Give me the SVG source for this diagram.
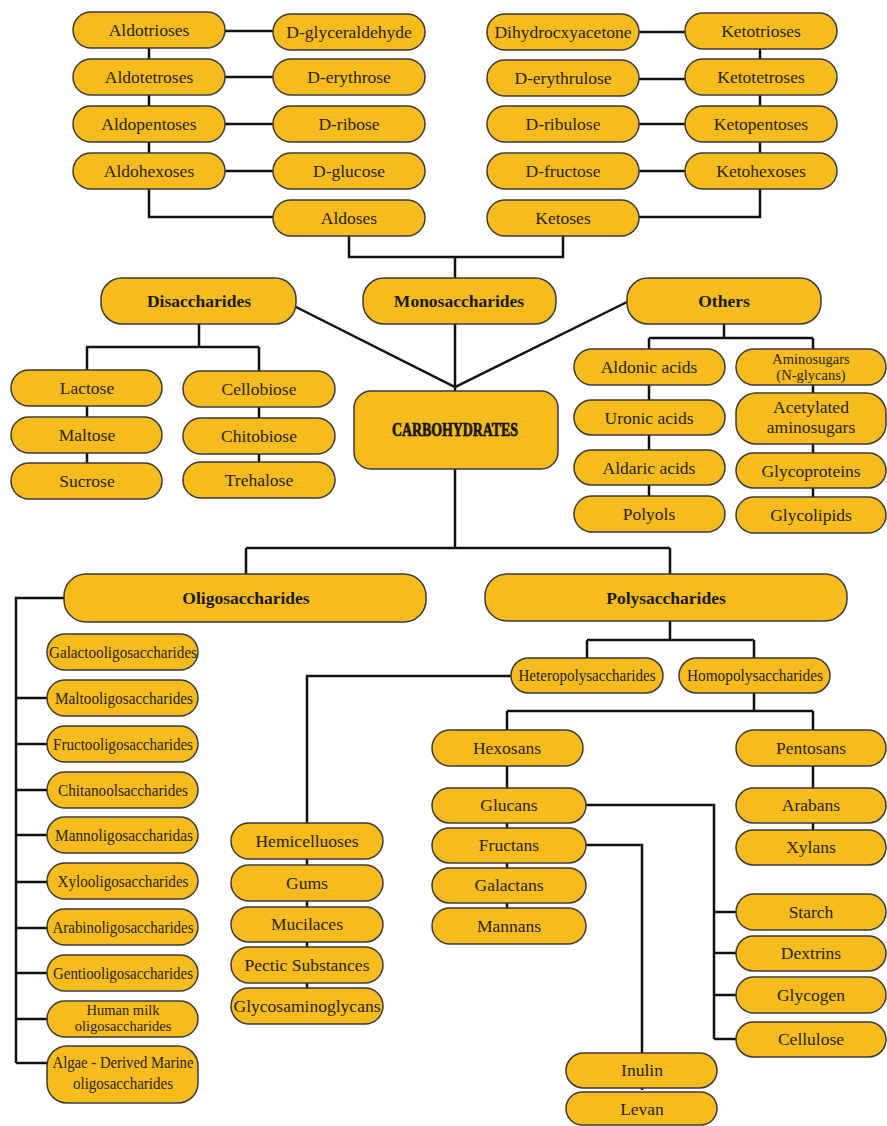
<svg xmlns="http://www.w3.org/2000/svg" width="887" height="1126" viewBox="0 0 887 1126">
<style>
rect{fill:#F6BC1D;stroke:#3a3a3a;stroke-width:1.5}
text{font-family:"Liberation Serif","Times New Roman",serif;font-size:17.5px;fill:#2a2418;text-anchor:middle}
.b{font-weight:bold;fill:#1a1a1a}
.s{font-size:14.5px}
#connectors path{fill:none;stroke:#111;stroke-width:2.5}
</style>
<rect x="0" y="0" width="887" height="1126" style="fill:#fff;stroke:none"/>
<g id="connectors">
<path d="M149 30V217H273M225 31H273M225 77H273M225 124H273M225 171H273"/>
<path d="M760 31V217H639M639 32H685M639 79H685M639 124H685M639 171H685"/>
<path d="M349 236V257H563V236M455 257V278"/>
<path d="M455 324V391M296 307L455 387L627 302"/>
<path d="M199 324V347M86 347H259M87 347V481M259 347V480"/>
<path d="M724 324V338M649 338H813M649 338V514M813 338V515"/>
<path d="M455 469V548M246 548H670M246 548V574M670 548V574"/>
<path d="M64 598H16V1063M16 698H47M16 744H47M16 790H47M16 835H47M16 882H47M16 928H47M16 973H47M16 1019H47M16 1063H47"/>
<path d="M670 621V640M587 640H754M587 640V658M754 640V658"/>
<path d="M511 676H307V1006"/>
<path d="M754 693V711M507 711H813M507 711V926M813 711V848"/>
<path d="M586 805H714V1039M714 912H736M714 953H736M714 995H736M714 1039H736"/>
<path d="M586 845H642V1090"/>
</g>
<g id="n-aldotrioses"><rect x="73" y="12" width="152" height="36" rx="18"/><text x="149" y="36">Aldotrioses</text></g>
<g id="n-dglyceraldehyde"><rect x="273" y="14" width="152" height="36" rx="18"/><text x="349" y="38">D-glyceraldehyde</text></g>
<g id="n-aldotetroses"><rect x="73" y="59" width="152" height="36" rx="18"/><text x="149" y="83">Aldotetroses</text></g>
<g id="n-derythrose"><rect x="273" y="59" width="152" height="36" rx="18"/><text x="349" y="83">D-erythrose</text></g>
<g id="n-aldopentoses"><rect x="73" y="106" width="152" height="36" rx="18"/><text x="149" y="130">Aldopentoses</text></g>
<g id="n-dribose"><rect x="273" y="106" width="152" height="36" rx="18"/><text x="349" y="130">D-ribose</text></g>
<g id="n-aldohexoses"><rect x="73" y="153" width="152" height="36" rx="18"/><text x="149" y="177">Aldohexoses</text></g>
<g id="n-dglucose"><rect x="273" y="153" width="152" height="36" rx="18"/><text x="349" y="177">D-glucose</text></g>
<g id="n-aldoses"><rect x="273" y="200" width="152" height="36" rx="18"/><text x="349" y="224">Aldoses</text></g>
<g id="n-dihydroxyacetone"><rect x="487" y="14" width="152" height="36" rx="18"/><text x="563" y="38">Dihydrocxyacetone</text></g>
<g id="n-ketotrioses"><rect x="685" y="13" width="152" height="36" rx="18"/><text x="761" y="37">Ketotrioses</text></g>
<g id="n-derythrulose"><rect x="487" y="60" width="152" height="36" rx="18"/><text x="563" y="84">D-erythrulose</text></g>
<g id="n-ketotetroses"><rect x="685" y="59" width="152" height="36" rx="18"/><text x="761" y="83">Ketotetroses</text></g>
<g id="n-dribulose"><rect x="487" y="106" width="152" height="36" rx="18"/><text x="563" y="130">D-ribulose</text></g>
<g id="n-ketopentoses"><rect x="685" y="106" width="152" height="36" rx="18"/><text x="761" y="130">Ketopentoses</text></g>
<g id="n-dfructose"><rect x="487" y="153" width="152" height="36" rx="18"/><text x="563" y="177">D-fructose</text></g>
<g id="n-ketohexoses"><rect x="685" y="153" width="152" height="36" rx="18"/><text x="761" y="177">Ketohexoses</text></g>
<g id="n-ketoses"><rect x="487" y="200" width="152" height="36" rx="18"/><text x="563" y="224">Ketoses</text></g>
<g id="n-disaccharides"><rect x="101" y="278" width="195" height="46" rx="21"/><text class="b" x="199" y="307">Disaccharides</text></g>
<g id="n-monosaccharides"><rect x="363" y="278" width="193" height="46" rx="21"/><text class="b" x="459" y="307">Monosaccharides</text></g>
<g id="n-others"><rect x="627" y="278" width="194" height="46" rx="21"/><text class="b" x="724" y="307">Others</text></g>
<g id="n-lactose"><rect x="11" y="370" width="151" height="36" rx="18"/><text x="87" y="394">Lactose</text></g>
<g id="n-maltose"><rect x="11" y="417" width="151" height="36" rx="18"/><text x="87" y="441">Maltose</text></g>
<g id="n-sucrose"><rect x="11" y="463" width="151" height="36" rx="18"/><text x="87" y="487">Sucrose</text></g>
<g id="n-cellobiose"><rect x="183" y="371" width="152" height="36" rx="18"/><text x="259" y="395">Cellobiose</text></g>
<g id="n-chitobiose"><rect x="183" y="418" width="152" height="36" rx="18"/><text x="259" y="442">Chitobiose</text></g>
<g id="n-trehalose"><rect x="183" y="462" width="152" height="36" rx="18"/><text x="259" y="486">Trehalose</text></g>
<g id="n-carbohydrates"><rect x="354" y="391" width="204" height="78" rx="17"/><text class="b" x="455" y="436" style="font-size:19px;stroke:#111;stroke-width:0.7" textLength="126" lengthAdjust="spacingAndGlyphs">CARBOHYDRATES</text></g>
<g id="n-aldonic"><rect x="574" y="349" width="151" height="36" rx="18"/><text x="649" y="373">Aldonic acids</text></g>
<g id="n-uronic"><rect x="574" y="400" width="151" height="35" rx="17.5"/><text x="649" y="424">Uronic acids</text></g>
<g id="n-aldaric"><rect x="574" y="450" width="151" height="35" rx="17.5"/><text x="649" y="474">Aldaric acids</text></g>
<g id="n-polyols"><rect x="574" y="496" width="151" height="36" rx="18"/><text x="649" y="520">Polyols</text></g>
<g id="n-aminosugars"><rect x="736" y="349" width="150" height="36" rx="18"/><text class="s" x="811" y="364">Aminosugars</text><text class="s" x="811" y="380">(N-glycans)</text></g>
<g id="n-acetylated"><rect x="736" y="393" width="150" height="51" rx="20"/><text x="811" y="413">Acetylated</text><text x="811" y="433">aminosugars</text></g>
<g id="n-glycoproteins"><rect x="736" y="453" width="150" height="35" rx="17.5"/><text x="811" y="477">Glycoproteins</text></g>
<g id="n-glycolipids"><rect x="736" y="497" width="150" height="36" rx="18"/><text x="811" y="521">Glycolipids</text></g>
<g id="n-oligosaccharides"><rect x="64" y="574" width="362" height="48" rx="22"/><text class="b" x="246" y="604">Oligosaccharides</text></g>
<g id="n-polysaccharides"><rect x="485" y="574" width="362" height="47" rx="22"/><text class="b" x="666" y="604">Polysaccharides</text></g>
<g id="n-galacto"><rect x="47" y="634" width="151" height="36" rx="18"/><text x="123" y="658" textLength="148" lengthAdjust="spacingAndGlyphs">Galactooligosaccharides</text></g>
<g id="n-malto"><rect x="47" y="680" width="151" height="36" rx="18"/><text x="124" y="704" textLength="138" lengthAdjust="spacingAndGlyphs">Maltooligosaccharides</text></g>
<g id="n-fructo"><rect x="47" y="726" width="151" height="36" rx="18"/><text x="123" y="750" textLength="140" lengthAdjust="spacingAndGlyphs">Fructooligosaccharides</text></g>
<g id="n-chitanool"><rect x="47" y="772" width="151" height="36" rx="18"/><text x="123" y="796" textLength="130" lengthAdjust="spacingAndGlyphs">Chitanoolsaccharides</text></g>
<g id="n-mannoligo"><rect x="47" y="817" width="151" height="36" rx="18"/><text x="124" y="841" textLength="138" lengthAdjust="spacingAndGlyphs">Mannoligosaccharidas</text></g>
<g id="n-xylo"><rect x="47" y="863" width="151" height="36" rx="18"/><text x="123" y="887" textLength="131" lengthAdjust="spacingAndGlyphs">Xylooligosaccharides</text></g>
<g id="n-arabino"><rect x="47" y="909" width="151" height="36" rx="18"/><text x="123" y="933" textLength="141" lengthAdjust="spacingAndGlyphs">Arabinoligosaccharides</text></g>
<g id="n-gentio"><rect x="47" y="955" width="151" height="36" rx="18"/><text x="123" y="979" textLength="140" lengthAdjust="spacingAndGlyphs">Gentiooligosaccharides</text></g>
<g id="n-humanmilk"><rect x="47" y="1001" width="151" height="36" rx="18"/><text class="s" x="123" y="1015">Human milk</text><text class="s" x="123" y="1031">oligosaccharides</text></g>
<g id="n-algae"><rect x="47" y="1046" width="151" height="57" rx="20"/><text x="123" y="1068" textLength="141" lengthAdjust="spacingAndGlyphs">Algae - Derived Marine</text><text x="123" y="1089" textLength="100" lengthAdjust="spacingAndGlyphs">oligosaccharides</text></g>
<g id="n-hetero"><rect x="511" y="658" width="152" height="35" rx="17.5"/><text x="587" y="681" textLength="137" lengthAdjust="spacingAndGlyphs">Heteropolysaccharides</text></g>
<g id="n-homo"><rect x="679" y="658" width="151" height="35" rx="17.5"/><text x="755" y="681" textLength="136" lengthAdjust="spacingAndGlyphs">Homopolysaccharides</text></g>
<g id="n-hemicelluloses"><rect x="231" y="823" width="152" height="36" rx="18"/><text x="307" y="847">Hemicelluoses</text></g>
<g id="n-gums"><rect x="231" y="865" width="152" height="36" rx="18"/><text x="307" y="889">Gums</text></g>
<g id="n-mucilaces"><rect x="231" y="907" width="152" height="35" rx="17.5"/><text x="307" y="930">Mucilaces</text></g>
<g id="n-pectic"><rect x="231" y="947" width="152" height="36" rx="18"/><text x="307" y="971">Pectic Substances</text></g>
<g id="n-glycosaminoglycans"><rect x="231" y="988" width="152" height="36" rx="18"/><text x="307" y="1012" textLength="147" lengthAdjust="spacingAndGlyphs">Glycosaminoglycans</text></g>
<g id="n-hexosans"><rect x="432" y="730" width="151" height="36" rx="18"/><text x="507" y="754">Hexosans</text></g>
<g id="n-pentosans"><rect x="736" y="730" width="150" height="36" rx="18"/><text x="811" y="754">Pentosans</text></g>
<g id="n-glucans"><rect x="432" y="788" width="154" height="35" rx="17.5"/><text x="509" y="811">Glucans</text></g>
<g id="n-fructans"><rect x="432" y="828" width="154" height="35" rx="17.5"/><text x="509" y="851">Fructans</text></g>
<g id="n-galactans"><rect x="432" y="868" width="154" height="35" rx="17.5"/><text x="509" y="891">Galactans</text></g>
<g id="n-mannans"><rect x="432" y="908" width="154" height="36" rx="18"/><text x="509" y="932">Mannans</text></g>
<g id="n-arabans"><rect x="736" y="788" width="150" height="35" rx="17.5"/><text x="811" y="811">Arabans</text></g>
<g id="n-xylans"><rect x="736" y="830" width="150" height="35" rx="17.5"/><text x="811" y="853">Xylans</text></g>
<g id="n-starch"><rect x="736" y="894" width="150" height="36" rx="18"/><text x="811" y="918">Starch</text></g>
<g id="n-dextrins"><rect x="736" y="936" width="150" height="35" rx="17.5"/><text x="811" y="959">Dextrins</text></g>
<g id="n-glycogen"><rect x="736" y="977" width="150" height="36" rx="18"/><text x="811" y="1001">Glycogen</text></g>
<g id="n-cellulose"><rect x="736" y="1022" width="150" height="35" rx="17.5"/><text x="811" y="1045">Cellulose</text></g>
<g id="n-inulin"><rect x="566" y="1053" width="151" height="35" rx="17.5"/><text x="642" y="1076">Inulin</text></g>
<g id="n-levan"><rect x="566" y="1092" width="151" height="33" rx="16.5"/><text x="642" y="1115">Levan</text></g>
</svg>
